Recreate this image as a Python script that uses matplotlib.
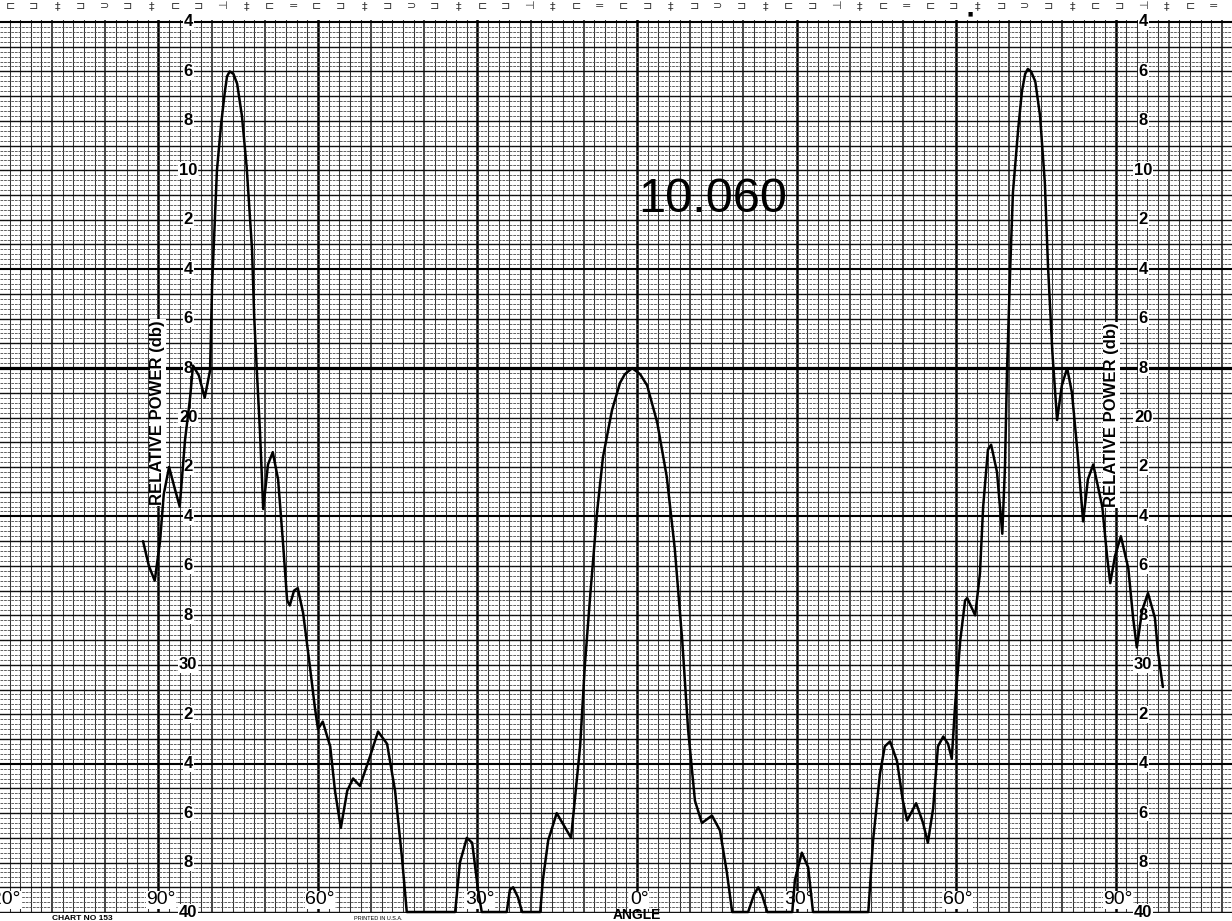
import numpy as np
import matplotlib
matplotlib.use("Agg")
import matplotlib.pyplot as plt

# antenna pattern: angle (deg) vs relative power (db down)
angle_deg = [
    -92.9, -91.8, -90.7, -89.7, -89.0, -88.0, -86.9, -86.0, -85.0, -84.1,
    -83.5, -82.4, -81.3, -80.3, -79.9, -79.4, -79.0, -78.2, -77.5, -77.1,
    -76.6, -75.9, -75.2, -74.3, -73.4, -72.4, -72.0, -71.5, -70.9, -70.3,
    -69.4, -68.5, -67.5, -66.6, -65.8, -65.3, -64.5, -63.8, -62.8, -61.5,
    -60.6, -60.0, -59.1, -57.7, -56.8, -55.7, -54.5, -53.4, -52.1, -50.2,
    -48.7, -47.0, -45.5, -44.2, -43.3, -34.2, -33.3, -32.0, -31.0, -29.9,
    -29.2, -24.5, -23.9, -23.3, -22.4, -21.6, -18.2, -17.7, -16.7, -15.1,
    -12.4, -10.7, -9.8, -8.8, -7.5, -6.4, -4.7, -3.2, -2.3, -0.9,
    0.6, 1.9, 3.8, 5.6, 7.1, 8.5, 9.6, 10.9, 12.2, 14.1,
    15.6, 16.9, 17.9, 20.9, 22.0, 22.8, 23.5, 24.5, 29.2, 29.7,
    31.0, 32.2, 33.1, 43.5, 44.4, 45.7, 46.6, 47.6, 48.9, 50.0,
    50.8, 52.5, 53.8, 54.7, 55.7, 56.6, 57.6, 58.5, 59.2, 59.8,
    60.8, 61.7, 62.1, 63.6, 64.5, 65.1, 66.0, 66.6, 67.7, 68.7,
    69.2, 69.6, 70.2, 70.7, 71.7, 72.4, 73.0, 73.5, 74.1, 74.9,
    75.8, 76.7, 77.3, 78.1, 79.0, 79.9, 80.9, 81.8, 82.8, 83.9,
    84.8, 85.8, 87.5, 88.4, 89.0, 89.9, 91.0, 92.4, 93.3, 94.0,
    95.0, 96.1, 97.4, 98.0, 98.9,
]
power_db = [
    25.0, 26.0, 26.6, 25.0, 23.1, 22.0, 22.9, 23.6, 20.9, 19.3,
    17.9, 18.3, 19.2, 18.1, 14.6, 12.1, 10.0, 8.1, 6.8, 6.2,
    6.0, 6.1, 6.5, 7.8, 9.9, 13.2, 15.9, 18.1, 20.6, 23.7,
    21.9, 21.4, 22.5, 25.0, 27.4, 27.6, 27.0, 26.9, 27.9, 30.1,
    31.7, 32.6, 32.3, 33.3, 35.1, 36.6, 35.1, 34.6, 34.9, 33.7,
    32.7, 33.2, 35.1, 37.8, 40.0, 40.0, 38.0, 37.0, 37.2, 39.1,
    40.0, 40.0, 39.1, 39.0, 39.4, 40.0, 40.0, 38.7, 37.1, 36.0,
    37.0, 33.3, 30.0, 27.2, 23.8, 21.6, 19.7, 18.6, 18.25, 18.0,
    18.25, 18.7, 20.2, 22.4, 25.3, 29.0, 32.6, 35.5, 36.4, 36.1,
    36.7, 38.4, 40.0, 40.0, 39.3, 39.0, 39.3, 40.0, 40.0, 38.7,
    37.6, 38.2, 40.0, 40.0, 37.1, 34.4, 33.3, 33.1, 33.9, 35.5,
    36.3, 35.6, 36.4, 37.2, 35.8, 33.3, 32.9, 33.2, 33.8, 31.7,
    29.0, 27.4, 27.3, 28.0, 26.3, 23.6, 21.3, 21.1, 22.2, 24.7,
    22.0, 18.0, 13.9, 10.9, 8.3, 6.8, 6.1, 5.9, 6.0, 6.4,
    7.8, 10.5, 13.9, 17.3, 20.1, 18.7, 18.0, 19.0, 21.3, 24.2,
    22.5, 21.9, 23.6, 25.6, 26.7, 25.6, 24.8, 26.1, 28.1, 29.3,
    27.8, 27.1, 28.1, 29.5, 30.9,
]

db_ticks = [4, 6, 8, 10, 12, 14, 16, 18, 20, 22, 24, 26, 28, 30, 32, 34, 36, 38, 40]
db_labels = ["4", "6", "8", "10", "2", "4", "6", "8", "20", "2",
             "4", "6", "8", "30", "2", "4", "6", "8", "40"]
angle_ticks = [-120, -90, -60, -30, 0, 30, 60, 90]
angle_labels = ["120°", "90°", "60°", "30°", "0°", "30°", "60°", "90°"]
title_text = "10.060"

W, H = 1232, 921
fig = plt.figure(figsize=(W / 100, H / 100), dpi=100)
fig.patch.set_facecolor("white")
ax = fig.add_axes([0, 8 / H, 1, (913 - 20) / H])
ax.set_xlim(-119.8, 111.9)
ax.set_ylim(40.04, 3.92)
ax.axis("off")

# chart paper grid
for v in range(-120, 114, 2):
    if v % 30 == 0:
        ax.axvline(v, color="black", lw=1.8, zorder=1)
    elif v % 10 == 0:
        ax.axvline(v, color="#111111", lw=1.1, zorder=1)
    else:
        ax.axvline(v, color="#333333", lw=0.75, zorder=1)

for i in range(0, 181):
    h = 4 + i * 0.2
    if i % 50 == 0:
        ax.axhline(h, color="black", lw=1.5, zorder=1)
    elif i % 5 == 0:
        ax.axhline(h, color="#111111", lw=1.0, zorder=1)
    else:
        ax.axhline(h, color="#555555", lw=0.65, ls=(0, (3, 1)), zorder=1)

# heavy reference line
ax.axhline(18, color="black", lw=2.3, zorder=3)

# pattern trace
ax.plot(angle_deg, power_db, color="black", lw=1.8, zorder=5,
        solid_joinstyle="round", solid_capstyle="round", clip_on=False)

box = dict(facecolor="white", edgecolor="none", pad=0.6)
lab_font = dict(family="Liberation Sans", fontsize=12, fontweight="bold")
for t, s in zip(db_ticks, db_labels):
    for xc in (-84.4, 95.2):
        ax.text(xc, t, s, ha="center", va="center", bbox=box, zorder=4, **lab_font)

for t, s in zip(angle_ticks, angle_labels):
    ax.text(t + 0.4, 39.5, s, ha="center", va="center", family="Liberation Sans",
            fontsize=14, bbox=dict(facecolor="white", edgecolor="none", pad=0.3),
            zorder=4, clip_on=False)

ax.text(-90.1, 19.8, "RELATIVE POWER (db)", rotation=90, ha="center", va="center",
        bbox=box, zorder=4, **lab_font)
ax.text(89.3, 19.9, "RELATIVE POWER (db)", rotation=90, ha="center", va="center",
        bbox=box, zorder=4, **lab_font)

ax.text(14.2, 11.2, title_text, ha="center", va="center", family="Liberation Sans",
        fontsize=35, zorder=4)

# margins of the chart paper
fig.text(637 / W, 1 - 915 / H, "ANGLE", ha="center", va="center",
         family="Liberation Sans", fontsize=10, fontweight="bold")
fig.text(82 / W, 1 - 918 / H, "CHART NO 153", ha="center", va="center",
         family="Liberation Sans", fontsize=6, fontweight="bold")
fig.text(378 / W, 1 - 918 / H, "PRINTED IN U.S.A.", ha="center", va="center",
         family="Liberation Sans", fontsize=4)

marks = ["⊏", "⊐", "‡", "⊐", "⊃", "⊐", "‡", "⊏", "⊐", "⊣", "‡", "⊏", "="]
for k, xp in enumerate(np.arange(10, W, 23.6)):
    fig.text(xp / W, 1 - 6 / H, marks[k % len(marks)], ha="center", va="center",
             fontsize=8, color="#333333")
fig.text(970 / W, 1 - 14 / H, "■", ha="center", va="center", fontsize=4, color="black")

fig.savefig("out.png", dpi=100, facecolor="white")
